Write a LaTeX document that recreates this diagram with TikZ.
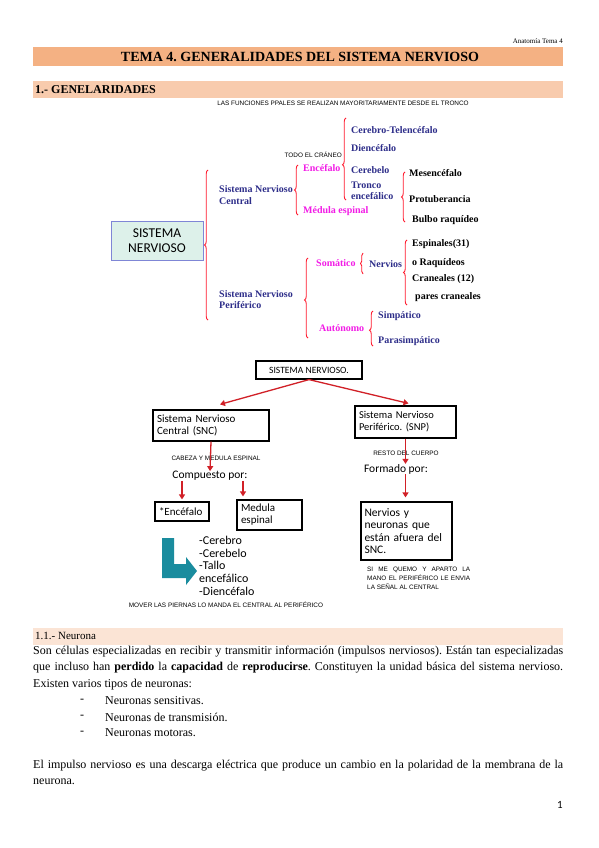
\documentclass[tikz,border=0pt]{standalone}
\usepackage{fontspec}
\setmainfont{Liberation Serif}
\newfontfamily\gillfont{Carlito}
\newfontfamily\smallsans{Liberation Sans}
\usetikzlibrary{arrows.meta, decorations.pathreplacing, calc}
\definecolor{titlebar}{HTML}{F4B183}
\definecolor{secbar}{HTML}{F8CBAD}
\definecolor{subbar}{HTML}{FBE4D5}
\definecolor{navy}{HTML}{2E2E8A}
\definecolor{pinkmag}{HTML}{F21CE6}
\definecolor{bracered}{HTML}{FF1A2E}
\definecolor{arrowred}{HTML}{D12027}
\definecolor{tealarrow}{HTML}{1A8C9E}
\definecolor{snfill}{HTML}{DDF1EA}
\definecolor{snline}{HTML}{7F86D6}
\frenchspacing

\begin{document}
\begin{tikzpicture}[x=1pt, y=-1pt,
  curly/.style={decorate, decoration={brace, amplitude=3.5pt, aspect=#1},
                draw=bracered, line width=0.9pt},
  curly/.default=0.5,
  lbl/.style={anchor=west, inner sep=0pt, align=left,
              font=\bfseries\fontsize{10}{11.5}\selectfont},
  cnav/.style={lbl, text=navy},
  cmag/.style={lbl, text=pinkmag},
  cblk/.style={lbl, text=black},
  note/.style={inner sep=0pt, font=\smallsans\fontsize{6.4}{9}\selectfont},
  gbox/.style={draw, line width=1.2pt, inner xsep=4pt, inner ysep=0pt, align=left,
               font=\gillfont\fontsize{11}{12}\selectfont},
  gtext/.style={inner sep=0pt, font=\gillfont\fontsize{11.5}{12.7}\selectfont},
  redarr/.style={draw=arrowred, line width=1.3pt, -{Triangle[length=5pt, width=6pt]}},
  body/.style={anchor=west, inner sep=0pt, font=\fontsize{12}{14}\selectfont}
]
\fill[white] (0,0) rectangle (599,848);
\useasboundingbox (0,0) rectangle (599,848);

% page head and bars
\node[anchor=east, inner sep=0pt, font=\fontsize{7}{8}\selectfont] (head) at (563,41) {Anatomía Tema 4};
\fill[titlebar] (33,47) rectangle (563,66);
\node[inner sep=0pt, font=\bfseries\fontsize{14}{16}\selectfont] (title) at (300,57) {TEMA 4. GENERALIDADES DEL SISTEMA NERVIOSO};
\fill[secbar] (33,81) rectangle (563,98);
\node[body, font=\bfseries\fontsize{12}{14}\selectfont] (sec1) at (35,90) {1.- GENELARIDADES};
\node[note] (tronco) at (343,103) {LAS FUNCIONES PPALES SE REALIZAN MAYORITARIAMENTE DESDE EL TRONCO};

% first scheme
\node[draw=snline, fill=snfill, line width=0.8pt, minimum width=92pt, minimum height=39pt,
      align=center, font=\gillfont\fontsize{13.5}{15.5}\selectfont] (sn) at (157,240.5) {SISTEMA\\NERVIOSO};
\draw[curly] (208,320) -- (208,170);

\node[cnav] (snc1) at (219,195) {Sistema Nervioso\\Central};
\draw[curly] (298,215) -- (298,165);
\node[note, anchor=east] (craneo) at (342,155) {TODO EL CRÁNEO};
\node[cmag] (encef) at (303,168) {Encéfalo};
\node[cmag] (medula1) at (303,211) {Médula espinal};
\draw[curly=0.43] (346,200) -- (346,118);
\node[cnav] (telen) at (351,130) {Cerebro-Telencéfalo};
\node[cnav] (dience) at (351,148) {Diencéfalo};
\node[cnav] (cereb) at (351,170) {Cerebelo};
\node[cnav, font=\bfseries\fontsize{10}{11}\selectfont] (tronc) at (351,190.5) {Tronco\\encefálico};
\draw[curly] (405,222) -- (405,172);
\node[cblk] (mesen) at (409,173) {Mesencéfalo};
\node[cblk] (protu) at (409,199) {Protuberancia};
\node[cblk] (bulbo) at (412,220) {Bulbo raquídeo};

\node[cnav] (snp1) at (219,299.5) {Sistema Nervioso\\Periférico};
\draw[curly=0.475] (308,338) -- (308,258);
\node[cmag] (somat) at (316,263) {Somático};
\draw[curly, decoration={amplitude=2.5pt}] (363,274) -- (363,253);
\node[cnav] (nerv1) at (369,264) {Nervios};
\draw[curly] (407,305) -- (407,240);
\node[cblk] (espin) at (412,244) {Espinales(31)};
\node[cblk] (raqui) at (412,263) {o Raquídeos};
\node[cblk] (cranea) at (412,279) {Craneales (12)};
\node[cblk] (pares) at (415,297) {pares craneales};
\node[cmag] (auton) at (319,328) {Autónomo};
\draw[curly=0.45] (373,346) -- (373,311);
\node[cnav] (simpa) at (378,316) {Simpático};
\node[cnav] (parasim) at (378,341) {Parasimpático};

% second scheme
\node[gbox, align=center, minimum width=106pt, minimum height=18pt,
      font=\gillfont\fontsize{9.6}{11}\selectfont] (root) at (309,370) {SISTEMA NERVIOSO.};
\node[gbox, text width=108pt, minimum height=31pt] (snc) at (211,425.5) {Sistema Nervioso\\Central (SNC)};
\node[gbox, text width=93pt, minimum height=32pt, font=\gillfont\fontsize{10.5}{12}\selectfont] (snp) at (405.5,422) {Sistema Nervioso\\Periférico. (SNP)};
\draw[redarr] (root.south) -- ($(snc.north)+(9,-5)$);
\draw[redarr] (root.south) -- ($(snp.north)+(3,-2)$);

\node[note] (cabeza) at (216,458) {CABEZA Y MEDULA ESPINAL};
\node[gtext] (compuesto) at (210,476) {Compuesto por:};
\draw[redarr] (snc.south) -- (compuesto.north);
\node[gbox, text width=46pt, minimum height=19pt] (enc) at (182,511.5) {*Encéfalo};
\node[gbox, text width=57pt, minimum height=30pt] (medula) at (269.5,515) {Medula\\espinal};
\draw[redarr, shorten >=2pt] (compuesto.south -| enc.north) -- (enc.north);
\draw[redarr, shorten >=3pt] (compuesto.south -| {243,0}) -- (medula.north -| {243,0});

\fill[tealarrow] (162,538) -- (174,538) -- (174,564) -- (186,564) -- (186,557)
  -- (197,571) -- (186,585) -- (186,578) -- (162,578) -- cycle;
\node[gtext, anchor=north west, align=left, font=\gillfont\fontsize{12}{12.7}\selectfont] (partes) at (199,536)
  {-Cerebro\\-Cerebelo\\-Tallo\\encefálico\\-Diencéfalo};
\node[note] (mover) at (226,605) {MOVER LAS PIERNAS LO MANDA EL CENTRAL AL PERIFÉRICO};

\node[note] (resto) at (406,453) {RESTO DEL CUERPO};
\node[gtext] (formado) at (396,469) {Formado por:};
\draw[redarr] (snp.south) -- (snp.south |- formado.north);
\node[gbox, inner xsep=3.5pt, text width=84pt, minimum height=58pt, font=\gillfont\fontsize{11.5}{12.5}\selectfont] (nervbox) at (406.5,531)
  {Nervios y\\neuronas que\\están afuera del\\SNC.};
\draw[redarr, shorten >=4pt] (formado.south -| snp.south) -- (nervbox.north -| snp.south);
\node[note, anchor=north west, text width=103pt, align=justify] (quemo) at (367,567)
  {SI ME QUEMO Y APARTO LA MANO EL PERIFÉRICO LE ENVIA LA SEÑAL AL CENTRAL};

% text block
\fill[subbar] (33,628) rectangle (563,645);
\node[body, font=\fontsize{11}{12}\selectfont] (sec11) at (35,636) {1.1.- Neurona};
\node[body] (p1) at (33,652) {\makebox[530pt][s]{Son células especializadas en recibir y transmitir información (impulsos nerviosos). Están tan especializadas}};
\node[body] (p2) at (33,668) {\makebox[530pt][s]{que incluso han \textbf{perdido} la \textbf{capacidad} de \textbf{reproducirse}. Constituyen la unidad básica del sistema nervioso.}};
\node[body] (p3) at (33,685) {Existen varios tipos de neuronas:};
\foreach \t [count=\i] in {Neuronas sensitivas., Neuronas de transmisión., Neuronas motoras.} {
  \node[body] (dash\i) at (80,685+16*\i) {-};
  \node[body] (item\i) at (105,685+16*\i) {\t};
}
\node[body] (p4) at (33,766) {\makebox[530pt][s]{El impulso nervioso es una descarga eléctrica que produce un cambio en la polaridad de la membrana de la}};
\node[body] (p5) at (33,782) {neurona.};
\node[anchor=east, inner sep=0pt, font=\gillfont\fontsize{11}{12}\selectfont] (pagenum) at (563,805) {1};
\end{tikzpicture}
\end{document}
